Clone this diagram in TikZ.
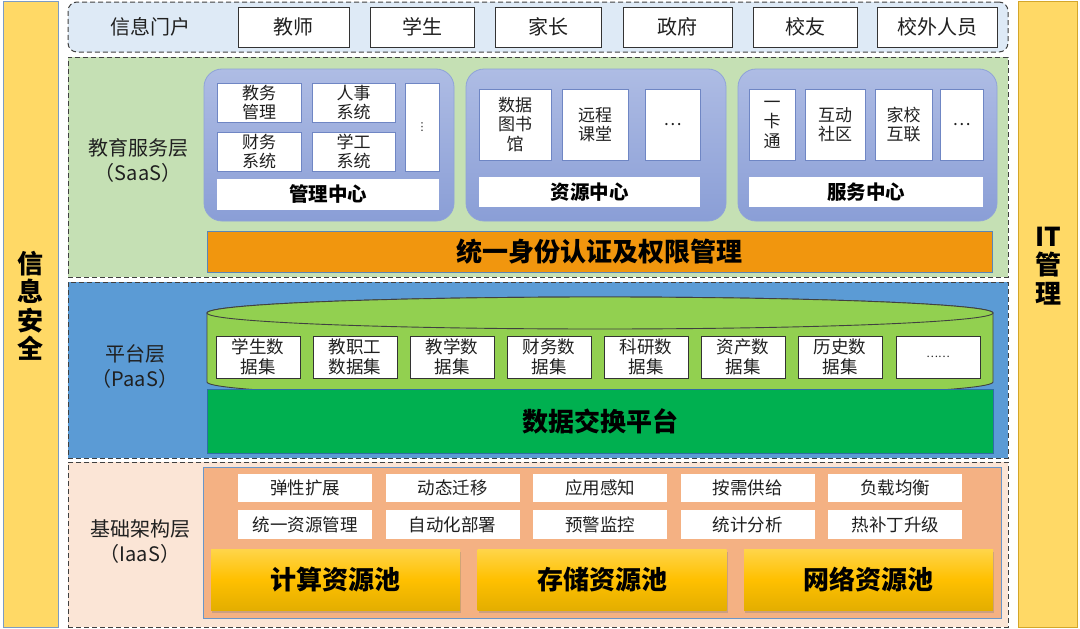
\documentclass[tikz,border=0pt]{standalone}
\usepackage{fontspec}
\setmainfont{Noto Sans CJK SC}
\newfontfamily\dejavu{DejaVu Sans}
\usetikzlibrary{shadows}
\definecolor{sidey}{HTML}{FFD966}
\definecolor{sideblue}{HTML}{7C9CC4}
\definecolor{sidegold}{HTML}{D4A62A}
\definecolor{portalc}{HTML}{DEEAF6}
\definecolor{saasc}{HTML}{C5E0B4}
\definecolor{blktop}{HTML}{AEBCE4}
\definecolor{blkbot}{HTML}{8A9ED6}
\definecolor{blkdraw}{HTML}{8FA3D8}
\definecolor{iboxd}{HTML}{6F86C4}
\definecolor{authc}{HTML}{F1960E}
\definecolor{authd}{HTML}{5A86B8}
\definecolor{paasc}{HTML}{5B9BD5}
\definecolor{cylc}{HTML}{92D050}
\definecolor{dxc}{HTML}{00B050}
\definecolor{dxd}{HTML}{2E6DA4}
\definecolor{iaasc}{HTML}{FBE5D6}
\definecolor{panc}{HTML}{F4B183}
\definecolor{pand}{HTML}{6A96C8}
\definecolor{pooltop}{HTML}{FFD54A}
\definecolor{poolmid}{HTML}{FFC000}
\definecolor{poolbot}{HTML}{E3AE00}
\definecolor{txt}{HTML}{202020}
\tikzset{
  base/.style={inner sep=0pt, outer sep=0pt, anchor=north west, align=center},
  layer/.style={base, draw=black!75, line width=1pt, dash pattern=on 5pt off 3pt},
  lbl/.style={inner sep=0pt, align=center, text=txt, font=\fontsize{20}{25}\selectfont},
  sidetxt/.style={inner sep=0pt, align=center, text=black, font=\fontsize{26}{28.5}\selectfont\bfseries},
  pbox/.style={base, fill=white, draw=black!80, line width=0.9pt, text=txt, font=\fontsize{20}{22}\selectfont},
  blk/.style={base, rounded corners=18pt, top color=blktop, bottom color=blkbot, draw=blkdraw, line width=0.8pt},
  ibox/.style={base, fill=white, draw=iboxd, line width=0.8pt, text=txt, font=\fontsize{17}{19.5}\selectfont},
  cbox/.style={base, fill=white, text=black, font=\fontsize{19.5}{22}\selectfont\bfseries},
  dbox/.style={base, fill=white, draw=black!80, line width=0.9pt, text=txt, font=\fontsize{17.5}{19.5}\selectfont, minimum width=84, minimum height=42},
  fbox/.style={base, fill=white, text=txt, font=\fontsize{17.5}{19}\selectfont, minimum width=134},
  pool/.style={base, top color=pooltop, bottom color=poolbot, middle color=poolmid, text=black, font=\fontsize{26}{30}\selectfont\bfseries, minimum width=249, minimum height=61, drop shadow={shadow xshift=1pt, shadow yshift=-3pt, opacity=0.35}},
}
\begin{document}
\begin{tikzpicture}[x=1pt,y=-1pt]
\useasboundingbox (0,0) rectangle (1080,629);
% side bars
\node[base, fill=sidey, draw=sideblue, line width=0.9pt, minimum width=55, minimum height=626] (secbar) at (3,1.5) {};
\node[sidetxt] (sectxt) at (30.5,306) {信\\息\\安\\全};
\node[base, fill=sidey, draw=sidegold, line width=0.9pt, minimum width=59, minimum height=626] (itbar) at (1018,1.5) {};
\node[sidetxt] (ittxt) at (1048,266) {IT\\管\\理};
% portal
\node[layer, fill=portalc, rounded corners=9pt, minimum width=940, minimum height=50] (portal) at (68,2) {};
\node[lbl] (portaltxt) at (150,27) {信息门户};
\node[pbox, minimum width=111, minimum height=40] (p1) at (238,7) {教师};
\node[pbox, minimum width=104, minimum height=40] (p2) at (370,7) {学生};
\node[pbox, minimum width=106, minimum height=40] (p3) at (495,7) {家长};
\node[pbox, minimum width=109, minimum height=40] (p4) at (623,7) {政府};
\node[pbox, minimum width=104, minimum height=40] (p5) at (753,7) {校友};
\node[pbox, minimum width=120, minimum height=40] (p6) at (877,7) {校外人员};
% SaaS
\node[layer, fill=saasc, minimum width=940, minimum height=220] (saas) at (68,57) {};
\node[lbl] (saastxt) at (138,160) {教育服务层\\（SaaS）};
\node[blk, minimum width=250, minimum height=152] (mgmt) at (204,69) {};
\node[blk, minimum width=260, minimum height=152] (res) at (466,69) {};
\node[blk, minimum width=259, minimum height=152] (svc) at (738,69) {};
\node[ibox, minimum width=84, minimum height=39] (m1) at (217,83) {教务\\管理};
\node[ibox, minimum width=83, minimum height=39] (m2) at (312,83) {人事\\系统};
\node[ibox, minimum width=84, minimum height=39] (m3) at (217,132) {财务\\系统};
\node[ibox, minimum width=83, minimum height=39] (m4) at (312,132) {学工\\系统};
\node[ibox, minimum width=34, minimum height=88, font=\fontsize{11}{12}\selectfont\dejavu] (m5) at (405,83) {⋮};
\node[cbox, minimum width=222, minimum height=31] (mc) at (217,179) {管理中心};
\node[ibox, minimum width=72, minimum height=71] (r1) at (479,89) {数据\\图书\\馆};
\node[ibox, minimum width=66, minimum height=71] (r2) at (562,89) {远程\\课堂};
\node[ibox, minimum width=55, minimum height=71] (r3) at (645,89) {…};
\node[cbox, minimum width=221, minimum height=30] (rc) at (479,177) {资源中心};
\node[ibox, minimum width=46, minimum height=71] (s1) at (749,89) {一\\卡\\通};
\node[ibox, minimum width=60, minimum height=71] (s2) at (805,89) {互动\\社区};
\node[ibox, minimum width=57, minimum height=71] (s3) at (875,89) {家校\\互联};
\node[ibox, minimum width=43, minimum height=71] (s4) at (940,89) {…};
\node[cbox, minimum width=234, minimum height=30] (sc) at (749,177) {服务中心};
\node[base, fill=authc, draw=authd, line width=0.8pt, minimum width=785, minimum height=41, text=black, font=\fontsize{26}{28}\selectfont\bfseries] (auth) at (207,231) {统一身份认证及权限管理};
% PaaS
\node[layer, fill=paasc, minimum width=940, minimum height=176] (paas) at (68,282) {};
\node[lbl] (paastxt) at (135,367) {平台层\\（PaaS）};
\filldraw[fill=cylc, draw=black!75, line width=0.9pt] (207,313) -- (207,382) arc[start angle=180, end angle=0, x radius=393, y radius=16] -- (993,313) arc[start angle=0, end angle=-180, x radius=393, y radius=16] -- cycle;
\filldraw[fill=cylc, draw=black!75, line width=0.9pt] (600,313) ellipse [x radius=393, y radius=16];
\node[dbox] (d1) at (216,336) {学生数\\据集};
\node[dbox] (d2) at (313,336) {教职工\\数据集};
\node[dbox] (d3) at (410,336) {教学数\\据集};
\node[dbox] (d4) at (507,336) {财务数\\据集};
\node[dbox] (d5) at (604,336) {科研数\\据集};
\node[dbox] (d6) at (701,336) {资产数\\据集};
\node[dbox] (d7) at (798,336) {历史数\\据集};
\node[dbox, font=\fontsize{11}{12}\selectfont] (d8) at (896,336) {……};
\node[base, fill=dxc, draw=dxd, line width=0.9pt, minimum width=786, minimum height=64, text=black, font=\fontsize{26}{30}\selectfont\bfseries] (dx) at (207,389) {数据交换平台};
% IaaS
\node[layer, fill=iaasc, minimum width=940, minimum height=165] (iaas) at (68,462) {};
\node[lbl] (iaastxt) at (140,542) {基础架构层\\（IaaS）};
\node[base, fill=panc, draw=pand, line width=0.9pt, minimum width=798, minimum height=151] (pan) at (203,467) {};
\node[fbox, minimum height=28] (f1) at (238,474) {弹性扩展};
\node[fbox, minimum height=28] (f2) at (385.6,474) {动态迁移};
\node[fbox, minimum height=28] (f3) at (533.2,474) {应用感知};
\node[fbox, minimum height=28] (f4) at (680.8,474) {按需供给};
\node[fbox, minimum height=28] (f5) at (828.4,474) {负载均衡};
\node[fbox, minimum height=29] (g1) at (238,510) {统一资源管理};
\node[fbox, minimum height=29] (g2) at (385.6,510) {自动化部署};
\node[fbox, minimum height=29] (g3) at (533.2,510) {预警监控};
\node[fbox, minimum height=29] (g4) at (680.8,510) {统计分析};
\node[fbox, minimum height=29] (g5) at (828.4,510) {热补丁升级};
\node[pool] (c1) at (211,549) {计算资源池};
\node[pool] (c2) at (477.5,549) {存储资源池};
\node[pool] (c3) at (744,549) {网络资源池};
\end{tikzpicture}
\end{document}
